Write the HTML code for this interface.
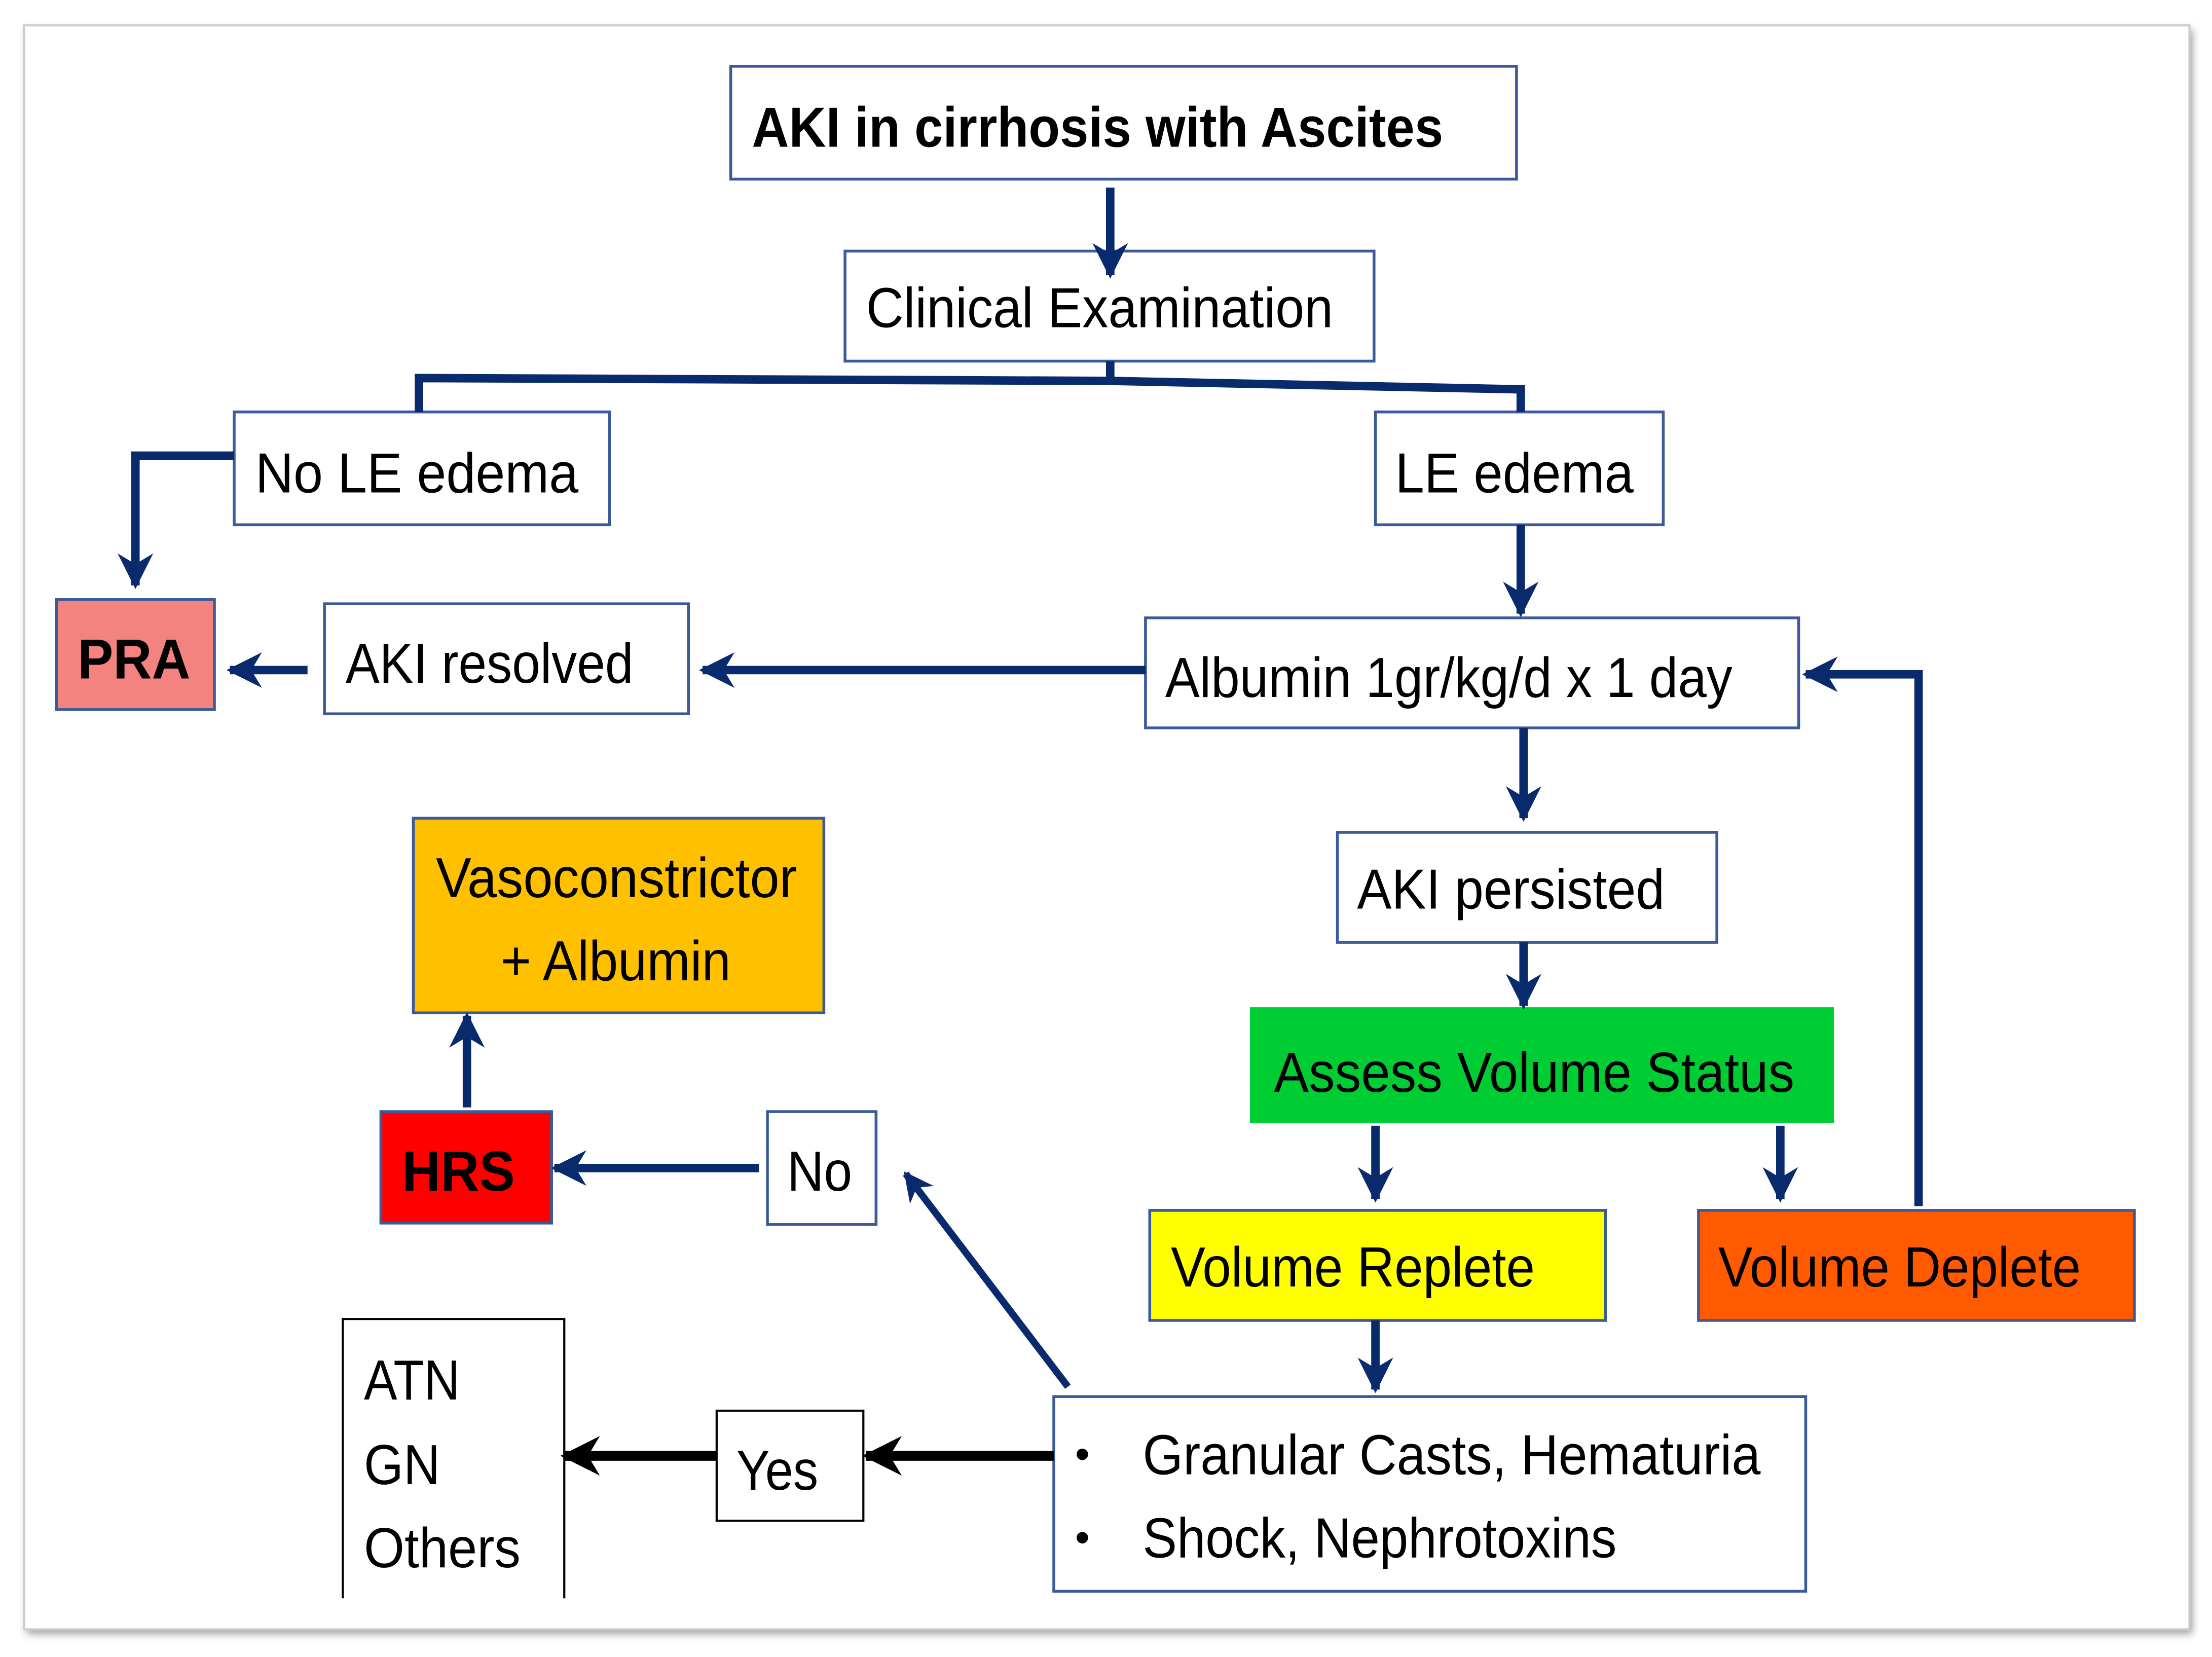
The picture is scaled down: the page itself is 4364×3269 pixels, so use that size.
<!DOCTYPE html>
<html><head><meta charset="utf-8"><style>
html,body{margin:0;padding:0;background:#fff;}
svg{display:block;}
text{font-family:"Liberation Sans",Arial,sans-serif;fill:#000;}
</style></head><body>
<svg width="4364" height="3269" viewBox="0 0 1568 1174.6" preserveAspectRatio="none" xmlns="http://www.w3.org/2000/svg">
<defs>
<filter id="sh" x="-5%" y="-5%" width="110%" height="110%"><feGaussianBlur stdDeviation="3"/></filter>
<marker id="a" viewBox="0 0 10 10" refX="9" refY="5" markerWidth="4.2" markerHeight="4.2" orient="auto" markerUnits="strokeWidth"><path d="M0,0 L10,5 L0,10 L3,5 z" fill="#0a2a6e"/></marker>
<marker id="b" viewBox="0 0 10 10" refX="9" refY="5" markerWidth="4" markerHeight="4" orient="auto" markerUnits="strokeWidth"><path d="M0,0 L10,5 L0,10 L3,5 z" fill="#000"/></marker>
</defs>
<rect x="19" y="21" width="1535" height="1137" fill="#999" filter="url(#sh)"/>
<rect x="17" y="18" width="1535" height="1137" fill="#fff" stroke="#ccc" stroke-width="1.5"/>

<g fill="#fff" stroke="#3c5a9a" stroke-width="2">
<rect x="518" y="47" width="557" height="80"/>
<rect x="599" y="178" width="375" height="78"/>
<rect x="166" y="292" width="266" height="80"/>
<rect x="975" y="292" width="204" height="80"/>
<rect x="40" y="425" width="112" height="78" fill="#f4827f"/>
<rect x="230" y="428" width="258" height="78"/>
<rect x="812" y="438" width="463" height="78"/>
<rect x="948" y="590" width="269" height="78"/>
<rect x="887" y="715" width="412" height="80" fill="#00cc33" stroke="#00cc33"/>
<rect x="293" y="580" width="291" height="138" fill="#ffc000"/>
<rect x="270" y="788" width="121" height="79" fill="#ff0000"/>
<rect x="544" y="788" width="77" height="80"/>
<rect x="815" y="858" width="323" height="78" fill="#ffff00"/>
<rect x="1204" y="858" width="309" height="78" fill="#ff5a00"/>
<rect x="747" y="990" width="533" height="138"/>
</g>
<g fill="#fff" stroke="#000" stroke-width="1.5">
<path d="M243,1133 L243,935 L400,935 L400,1133"/>
<rect x="508" y="1000" width="104" height="78"/>
</g>

<g font-size="40">
<text x="533" y="104" font-weight="bold" textLength="490" lengthAdjust="spacingAndGlyphs">AKI in cirrhosis with Ascites</text>
<text x="614" y="232" textLength="331" lengthAdjust="spacingAndGlyphs">Clinical Examination</text>
<text x="181" y="349" textLength="229" lengthAdjust="spacingAndGlyphs">No LE edema</text>
<text x="989" y="349" textLength="169" lengthAdjust="spacingAndGlyphs">LE edema</text>
<text x="55" y="481" font-weight="bold" textLength="80" lengthAdjust="spacingAndGlyphs">PRA</text>
<text x="245" y="484" textLength="204" lengthAdjust="spacingAndGlyphs">AKI resolved</text>
<text x="826" y="494" textLength="402" lengthAdjust="spacingAndGlyphs">Albumin 1gr/kg/d x 1 day</text>
<text x="962" y="644" textLength="218" lengthAdjust="spacingAndGlyphs">AKI persisted</text>
<text x="903" y="774" textLength="369" lengthAdjust="spacingAndGlyphs">Assess Volume Status</text>
<text x="309" y="636" textLength="256" lengthAdjust="spacingAndGlyphs">Vasoconstrictor</text>
<text x="355" y="695" textLength="163" lengthAdjust="spacingAndGlyphs">+ Albumin</text>
<text x="285" y="844" font-weight="bold" textLength="80" lengthAdjust="spacingAndGlyphs">HRS</text>
<text x="558" y="844" textLength="46" lengthAdjust="spacingAndGlyphs">No</text>
<text x="830" y="912" textLength="258" lengthAdjust="spacingAndGlyphs">Volume Replete</text>
<text x="1218" y="912" textLength="257" lengthAdjust="spacingAndGlyphs">Volume Deplete</text>
<text x="258" y="992" textLength="68" lengthAdjust="spacingAndGlyphs">ATN</text>
<text x="258" y="1052" textLength="54" lengthAdjust="spacingAndGlyphs">GN</text>
<text x="258" y="1111" textLength="111" lengthAdjust="spacingAndGlyphs">Others</text>
<text x="522" y="1056" textLength="58" lengthAdjust="spacingAndGlyphs">Yes</text>
<text x="762" y="1041" font-size="30">•</text>
<text x="762" y="1100" font-size="30">•</text>
<text x="810" y="1045" textLength="438" lengthAdjust="spacingAndGlyphs">Granular Casts, Hematuria</text>
<text x="810" y="1104" textLength="336" lengthAdjust="spacingAndGlyphs">Shock, Nephrotoxins</text>
</g>

<g fill="none" stroke="#0a2a6e" stroke-width="6">
<path d="M787,133 L787,195" marker-end="url(#a)"/>
<path d="M787,256 L787,270"/>
<path d="M297,292 L297,268 L787,270 L1078,276 L1078,292"/>
<path d="M166,323 L96,323 L96,415" marker-end="url(#a)"/>
<path d="M1078,372 L1078,435" marker-end="url(#a)"/>
<path d="M812,475 L498,475" marker-end="url(#a)"/>
<path d="M218,475 L163,475" marker-end="url(#a)"/>
<path d="M1080,516 L1080,580" marker-end="url(#a)"/>
<path d="M1080,668 L1080,713" marker-end="url(#a)"/>
<path d="M975,798 L975,850" marker-end="url(#a)"/>
<path d="M1262,798 L1262,850" marker-end="url(#a)"/>
<path d="M1360,855 L1360,478 L1280,478" marker-end="url(#a)"/>
<path d="M975,936 L975,985" marker-end="url(#a)"/>
<path d="M757,983 L642,832" stroke-width="5" marker-end="url(#a)"/>
<path d="M538,828 L393,828" marker-end="url(#a)"/>
<path d="M331,785 L331,720" marker-end="url(#a)"/>
</g>
<g fill="none" stroke="#000" stroke-width="7">
<path d="M747,1032 L614,1032" marker-end="url(#b)"/>
<path d="M508,1032 L400,1032" marker-end="url(#b)"/>
</g>
</svg>
</body></html>
